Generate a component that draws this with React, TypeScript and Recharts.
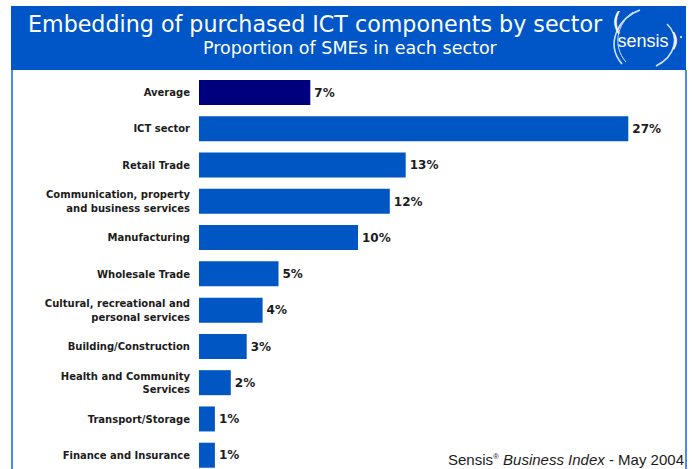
import React from 'react';
import { BarChart, Bar, XAxis, YAxis, Cell, LabelList } from 'recharts';

// sectors, top to bottom
const sectors = [
  'Average',
  'ICT sector',
  'Retail Trade',
  'Communication, property\nand business services',
  'Manufacturing',
  'Wholesale Trade',
  'Cultural, recreational and\npersonal services',
  'Building/Construction',
  'Health and Community\nServices',
  'Transport/Storage',
  'Finance and Insurance',
];

// % of SMEs embedding purchased ICT components
const shares = [7, 27, 13, 12, 10, 5, 4, 3, 2, 1, 1];

const HEADER_BLUE = '#0056c6';
const BAR_BLUE = '#0057c4';
const AVG_NAVY = '#00007f';
const FRAME_BLUE = '#4a8ee2';

const data = sectors.map((name, i) => ({ name, value: shares[i] }));

const SectorTick = (props: any) => {
  const { x, y, payload } = props;
  const lines = String(payload.value).split('\n');
  const lineH = 13.5;
  const startY = y - ((lines.length - 1) * lineH) / 2;
  return (
    <text
      x={x}
      y={startY}
      textAnchor="end"
      dominantBaseline="central"
      fontFamily="DejaVu Sans, Verdana, sans-serif"
      fontWeight="bold"
      fontSize={10}
      fill="#1c1c1c"
    >
      {lines.map((ln, i) => (
        <tspan key={i} x={x} dy={i === 0 ? 0 : lineH}>
          {ln}
        </tspan>
      ))}
    </text>
  );
};

const Header = () => (
  <svg width={692} height={72} style={{ position: 'absolute', left: 0, top: 0 }}>
    <rect x={11} y={6} width={675} height={64} fill={HEADER_BLUE} />
    <text x={28} y={32} fontFamily="DejaVu Sans, Verdana, sans-serif" fontSize={22.2} fill="#fff">
      Embedding of purchased ICT components by sector
    </text>
    <text x={203} y={54} fontFamily="DejaVu Sans, Verdana, sans-serif" fontSize={17.5} fill="#fff">
      Proportion of SMEs in each sector
    </text>
    {/* sensis logo */}
    <path d="M640 10 C618 18, 605 44, 622 64" stroke="#cfe0ff" strokeWidth={1.6} fill="none" />
    <path d="M633 12 C617 24, 612 46, 626 62" stroke="#cfe0ff" strokeWidth={1} fill="none" />
    <path d="M667 24 C680 36, 676 56, 656 66" stroke="#cfe0ff" strokeWidth={1.6} fill="none" />
    <text x={612} y={30} fontFamily="DejaVu Sans, sans-serif" fontSize={25} fill="#fff">(</text>
    <text
      x={643}
      y={47}
      textAnchor="middle"
      fontFamily="Liberation Sans Narrow, Liberation Sans, sans-serif"
      fontSize={18}
      fill="#fff"
    >
      sensis
    </text>
    <text x={671} y={47} fontFamily="DejaVu Sans, sans-serif" fontSize={19} fill="#fff">)</text>
    <circle cx={681} cy={37} r={1} fill="#fff" />
  </svg>
);

export default function App() {
  return (
    <div
      style={{
        position: 'absolute',
        left: 0,
        top: 0,
        width: 692,
        height: 469,
        overflow: 'hidden',
        background: '#fff',
      }}
    >
      <Header />
      <div style={{ position: 'absolute', left: 11, top: 70, width: 2, height: 400, background: FRAME_BLUE }} />
      <div style={{ position: 'absolute', left: 685, top: 70, width: 1.5, height: 400, background: FRAME_BLUE }} />
      <div style={{ position: 'absolute', left: 0, top: 0 }}>
        <BarChart
          width={692}
          height={473}
          data={data}
          layout="vertical"
          margin={{ top: 74, right: 16, bottom: 0, left: 0 }}
        >
          <XAxis type="number" domain={[0, 30]} hide />
          <YAxis
            type="category"
            dataKey="name"
            width={199}
            axisLine={false}
            tickLine={false}
            tickMargin={3}
            interval={0}
            tick={<SectorTick />}
          />
          <Bar dataKey="value" barSize={25} isAnimationActive={false}>
            {data.map((d, i) => (
              <Cell key={d.name} fill={i === 0 ? AVG_NAVY : BAR_BLUE} />
            ))}
            <LabelList
              dataKey="value"
              position="right"
              offset={4}
              formatter={(v: any) => `${v}%`}
              style={{
                fontFamily: 'DejaVu Sans, Verdana, sans-serif',
                fontWeight: 'bold',
                fontSize: 12,
                fill: '#1c1c1c',
              }}
            />
          </Bar>
        </BarChart>
      </div>
      <div
        style={{
          position: 'absolute',
          right: 8,
          top: 451,
          fontFamily: 'Liberation Sans, Arial, sans-serif',
          fontSize: 15,
          color: '#1c1c1c',
          whiteSpace: 'nowrap',
        }}
      >
        Sensis<sup style={{ fontSize: 8 }}>®</sup> <i>Business Index</i> - May 2004
      </div>
    </div>
  );
}
